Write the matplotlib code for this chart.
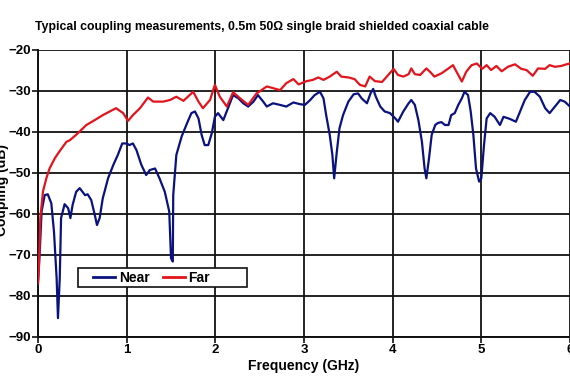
import matplotlib
matplotlib.use("Agg")
import matplotlib.pyplot as plt
from matplotlib.patches import Rectangle

plt.rcParams['font.family'] = ['Liberation Sans', 'DejaVu Sans']
plt.rcParams['font.weight'] = 'bold'

# Near-end coupling (GHz, dB)
near_f = [0.0, 0.02, 0.04, 0.075, 0.11, 0.15, 0.18, 0.21, 0.225, 0.245, 0.26, 0.30,
          0.34, 0.365, 0.39, 0.43, 0.47, 0.53, 0.56, 0.60, 0.64, 0.665, 0.695, 0.73,
          0.79, 0.85, 0.90, 0.95, 1.0, 1.03, 1.07, 1.11, 1.165, 1.22, 1.26, 1.32,
          1.37, 1.43, 1.48, 1.50, 1.52, 1.525, 1.56, 1.62, 1.68, 1.73, 1.77, 1.81,
          1.845, 1.88, 1.92, 1.96, 1.995, 2.03, 2.09, 2.15, 2.20, 2.26, 2.315, 2.37,
          2.43, 2.48, 2.54, 2.58, 2.65, 2.73, 2.80, 2.88, 2.95, 3.01, 3.07, 3.12,
          3.18, 3.22, 3.25, 3.29, 3.32, 3.34, 3.37, 3.40, 3.44, 3.50, 3.56, 3.61,
          3.65, 3.71, 3.75, 3.78, 3.81, 3.86, 3.91, 3.97, 4.03, 4.06, 4.12, 4.18,
          4.21, 4.25, 4.29, 4.33, 4.36, 4.38, 4.41, 4.44, 4.48, 4.51, 4.55, 4.59,
          4.63, 4.66, 4.70, 4.74, 4.78, 4.81, 4.85, 4.88, 4.91, 4.94, 4.975, 5.0,
          5.03, 5.06, 5.10, 5.15, 5.21, 5.25, 5.32, 5.39, 5.43, 5.49, 5.55, 5.60,
          5.66, 5.72, 5.77, 5.83, 5.89, 5.94, 6.0]
near_db = [-76.5, -69, -59.4, -55.4, -55.2, -57.4, -64.3, -75.7, -85.4, -75.7, -61, -57.6,
           -58.6, -61, -57.8, -54.6, -53.7, -55.4, -55.2, -56.6, -60.2, -62.7, -61, -56.2,
           -51.3, -48, -45.6, -42.8, -42.8, -43.2, -42.8, -44.4, -48, -50.5, -49.3, -48.9,
           -51.3, -54.6, -59.4, -70.8, -71.6, -55.4, -45.6, -41.1, -37.9, -35.4, -35, -36.7,
           -40.7, -43.2, -43.2, -40.3, -36.3, -35.4, -37.1, -33.8, -31, -31.8, -33, -33.8,
           -32.6, -31, -32.6, -33.8, -33, -33.4, -33.8, -32.8, -33.2, -33.4, -32.2, -31,
           -30.2, -31.8, -35.9, -40.7, -45.6, -51.3, -44.8, -39.1, -35.9, -32.6, -30.8, -30.6,
           -31.8, -33, -30.6, -29.5, -31.4, -33.8, -35, -35.4, -36.7, -37.5, -35, -33,
           -32.2, -33.4, -37.1, -42.4, -48.9, -51.3, -46.4, -40.7, -38.3, -37.8, -37.6, -38.3,
           -38.3, -35.9, -35.4, -33.4, -31.8, -30.2, -31, -35, -40.7, -48.9, -52.1, -51.3,
           -43.2, -36.7, -35.4, -36.3, -38.3, -36.3, -36.8, -37.5, -35.4, -32.2, -30.2, -30.2,
           -31.4, -34.2, -35.4, -33.8, -32.2, -32.6, -33.8]

# Far-end coupling (GHz, dB)
far_f = [0.0, 0.011, 0.026, 0.056, 0.094, 0.13, 0.19, 0.24, 0.32, 0.36, 0.45, 0.545,
         0.64, 0.73, 0.88, 0.96, 1.015, 1.07, 1.15, 1.24, 1.30, 1.41, 1.49, 1.56,
         1.64, 1.75, 1.81, 1.86, 1.94, 1.995, 2.05, 2.13, 2.20, 2.28, 2.37, 2.465,
         2.52, 2.58, 2.65, 2.73, 2.80, 2.88, 2.94, 3.03, 3.10, 3.16, 3.22, 3.29,
         3.37, 3.42, 3.50, 3.57, 3.63, 3.69, 3.74, 3.80, 3.88, 3.95, 4.01, 4.06,
         4.12, 4.18, 4.21, 4.25, 4.31, 4.38, 4.43, 4.47, 4.55, 4.63, 4.68, 4.74,
         4.78, 4.83, 4.89, 4.95, 5.01, 5.06, 5.11, 5.17, 5.23, 5.30, 5.38, 5.45,
         5.51, 5.58, 5.64, 5.72, 5.77, 5.83, 5.90, 5.96, 6.0]
far_db = [-77, -72.4, -61, -54.5, -51.3, -48.9, -46.4, -44.8, -42.4, -42, -40.3, -38.3,
          -37.1, -35.9, -34.2, -35.4, -37.3, -35.9, -34.2, -31.6, -32.6, -32.6, -32.2, -31.4,
          -32.4, -30.2, -32.6, -34.2, -32.2, -28.5, -31.4, -33.8, -30.3, -31.8, -33.4, -30.6,
          -29.8, -28.9, -29.3, -29.8, -28.1, -27.1, -28.4, -27.6, -27.3, -26.7, -27.3, -26.5,
          -25.3, -26.5, -26.7, -27.1, -28.5, -28.9, -26.5, -27.6, -27.8, -26.1, -24.6, -26.1,
          -26.5, -25.9, -24.5, -25.9, -26.1, -24.5, -25.5, -26.5, -25.7, -24.5, -23.7, -26.1,
          -27.7, -25.3, -23.7, -23.3, -24.6, -23.7, -24.9, -23.9, -25.2, -24.1, -23.5, -24.6,
          -24.9, -26.3, -24.5, -24.6, -23.7, -24.1, -23.9, -23.5, -23.3]

x_ticks = [0, 1, 2, 3, 4, 5, 6]
y_ticks = [-90, -80, -70, -60, -50, -40, -30, -20]

fig = plt.figure(figsize=(5.7, 3.8), dpi=100)
ax = fig.add_axes([0.0667, 0.1132, 0.9333, 0.7553])

ax.plot(near_f, near_db, color='#0a127f', lw=1.6, label='Near', zorder=3)
ax.plot(far_f, far_db, color='#e3141c', lw=1.6, label='Far', zorder=3)

ax.set_xlim(0, 6)
ax.set_ylim(-90, -20)
ax.set_xticks(x_ticks)
ax.set_yticks(y_ticks)
ax.grid(True, color='#111111', lw=1.3)
ax.set_axisbelow(True)
for side in ['top', 'right']:
    ax.spines[side].set_visible(False)
for side in ['left', 'bottom']:
    ax.spines[side].set_color('#111111')
    ax.spines[side].set_linewidth(1.4)
ax.tick_params(axis='both', labelsize=9.5, length=4, width=1.2, color='#111111', pad=1)
for lbl in ax.get_xticklabels() + ax.get_yticklabels():
    lbl.set_fontweight('bold')

ax.set_xlabel('Frequency (GHz)', fontsize=10, fontweight='bold', labelpad=2)
fig.text(0.004, 0.5, 'Coupling (dB)', rotation=90, fontsize=10, fontweight='bold',
         ha='center', va='center')
fig.text(0.459, 0.929, 'Typical coupling measurements, 0.5m 50\u03a9 single braid shielded coaxial cable',
         fontsize=8.8, fontweight='bold', ha='center', va='center')

# legend box drawn like the spreadsheet one (wide right padding)
ax.add_patch(Rectangle((0.451, -77.8), 1.905, 4.63, facecolor='white',
                       edgecolor='#111111', lw=1.2, zorder=4))
leg = ax.legend(loc='center left', bbox_to_anchor=(0.1034, 0.207), ncol=2, fontsize=10,
                frameon=False, borderpad=0, borderaxespad=0, handlelength=1.6,
                columnspacing=0.95, handletextpad=0.25)
leg.set_zorder(5)
for t in leg.get_texts():
    t.set_fontweight('bold')
for h in leg.get_lines():
    h.set_linewidth(2)

fig.savefig('out.png', dpi=100)
